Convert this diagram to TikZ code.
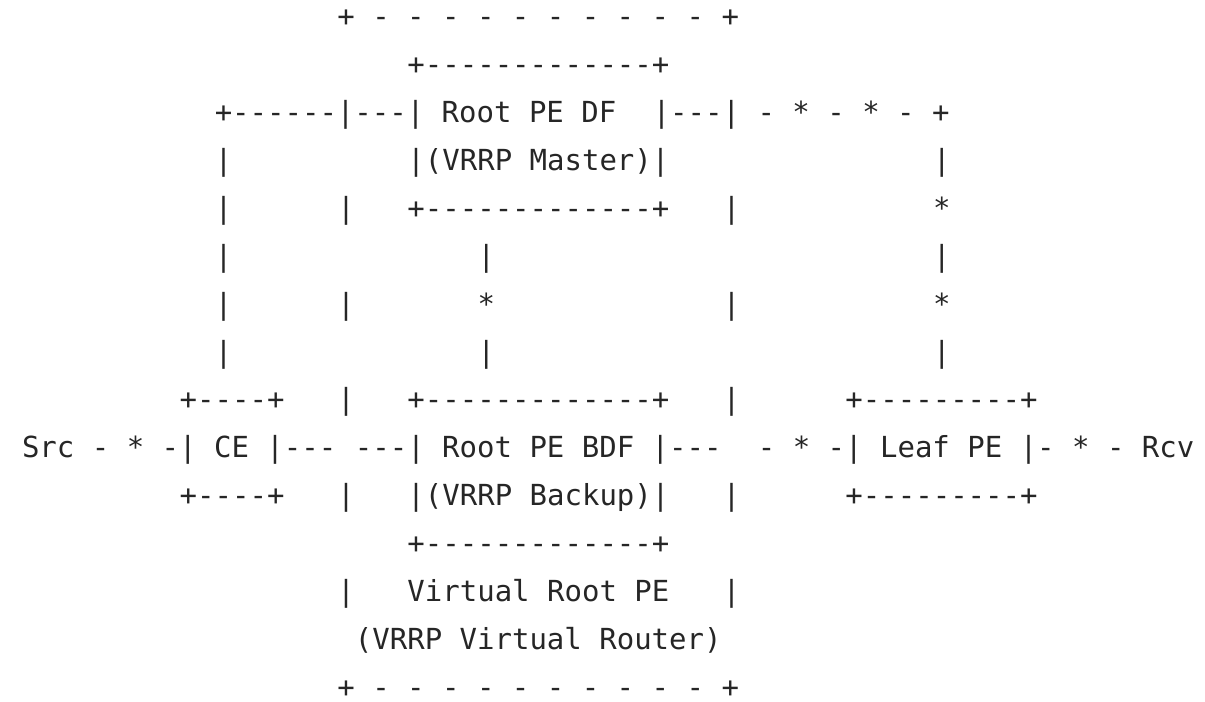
\documentclass[tikz,border=0pt]{standalone}
\usepackage{fontspec}
\setmonofont{DejaVu Sans Mono}
\usepackage{tikz}

\begin{document}
\begin{tikzpicture}[
  x=0.3514cm, y=-0.96cm,
  font=\ttfamily\fontsize{16.55}{20}\selectfont,
  txt/.style={anchor=west, inner sep=0pt, text height=0.7em, text depth=0pt,
              text=black!85},
]
\useasboundingbox (-1.238,-0.435) rectangle (67.54,14.215);
% Virtual root outline (top)
\node[txt] (vtop)   at (18,0) {+ - - - - - - - - - - +};
% Root PE DF
\node[txt] (dftop)  at (22,1) {+-------------+};
\node[txt] (dfl)    at (11,2) {+------|---| Root PE DF};
\node[txt] (dfr)    at (36,2) {|---| - * - * - +};
\node[txt] (c3a)    at (11,3) {|};
\node[txt] (dfsub)  at (22,3) {|(VRRP Master)|};
\node[txt] (c3b)    at (52,3) {|};
\node[txt] (c4a)    at (11,4) {|};
\node[txt] (c4b)    at (18,4) {|};
\node[txt] (dfbot)  at (22,4) {+-------------+};
\node[txt] (c4c)    at (40,4) {|};
\node[txt] (c4d)    at (52,4) {*};
% Links between the rows
\node[txt] (c5a)    at (11,5) {|};
\node[txt] (c5b)    at (26,5) {|};
\node[txt] (c5c)    at (52,5) {|};
\node[txt] (c6a)    at (11,6) {|};
\node[txt] (c6b)    at (18,6) {|};
\node[txt] (c6c)    at (26,6) {*};
\node[txt] (c6d)    at (40,6) {|};
\node[txt] (c6e)    at (52,6) {*};
\node[txt] (c7a)    at (11,7) {|};
\node[txt] (c7b)    at (26,7) {|};
\node[txt] (c7c)    at (52,7) {|};
% CE, Root PE BDF, Leaf PE
\node[txt] (cetop)  at (9,8)  {+----+};
\node[txt] (c8a)    at (18,8) {|};
\node[txt] (bdftop) at (22,8) {+-------------+};
\node[txt] (c8b)    at (40,8) {|};
\node[txt] (lftop)  at (47,8) {+---------+};
\node[txt] (src)    at (0,9)  {Src - * -| CE |---};
\node[txt] (bdf)    at (19,9) {---| Root PE BDF |---};
\node[txt] (leaf)   at (42,9) {- * -| Leaf PE |- * - Rcv};
\node[txt] (cebot)  at (9,10) {+----+};
\node[txt] (c10a)   at (18,10) {|};
\node[txt] (bdfsub) at (22,10) {|(VRRP Backup)|};
\node[txt] (c10b)   at (40,10) {|};
\node[txt] (lfbot)  at (47,10) {+---------+};
\node[txt] (bdfbot) at (22,11) {+-------------+};
% Virtual root PE
\node[txt] (c12a)   at (18,12) {|};
\node[txt] (vname)  at (22,12) {Virtual Root PE};
\node[txt] (c12b)   at (40,12) {|};
\node[txt] (vsub)   at (19,13) {(VRRP Virtual Router)};
\node[txt] (vbot)   at (18,14) {+ - - - - - - - - - - +};
\end{tikzpicture}
\end{document}
